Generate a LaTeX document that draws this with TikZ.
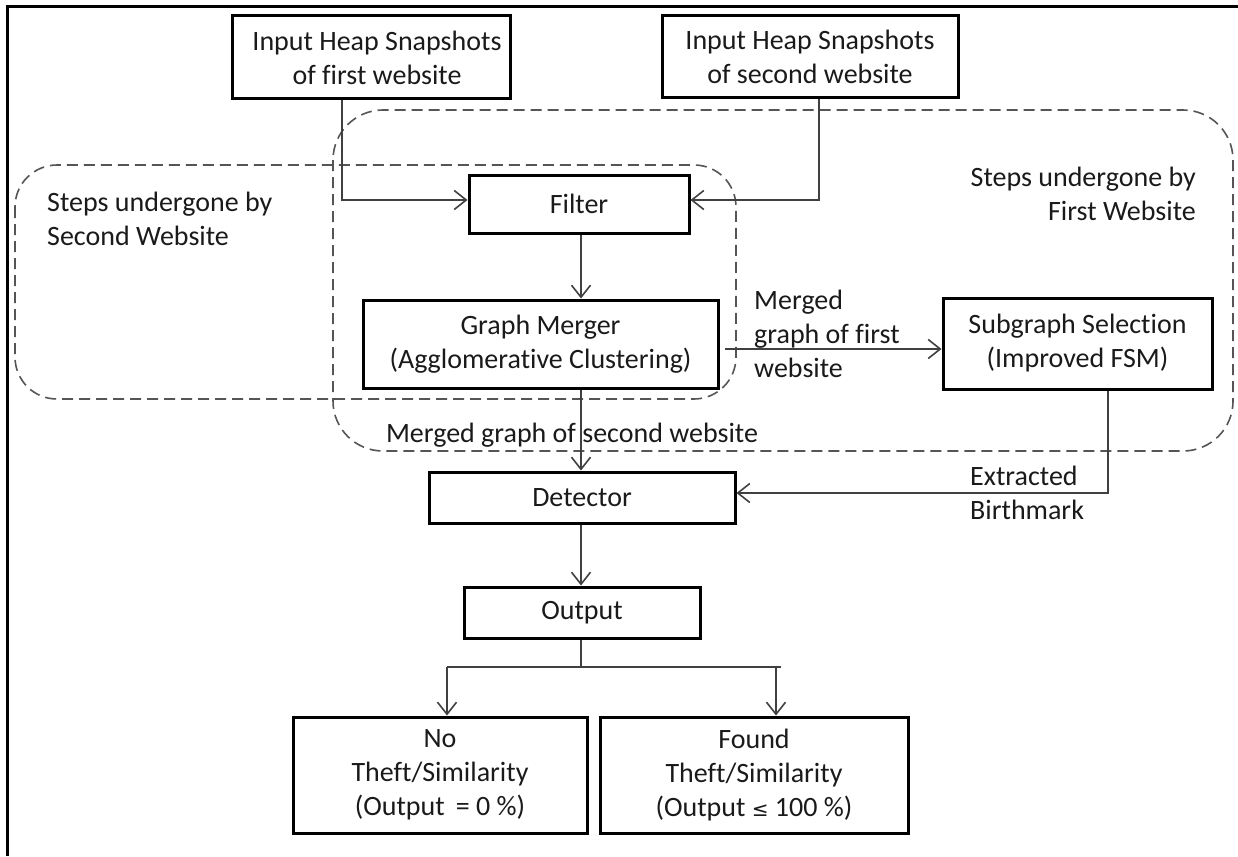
\documentclass[tikz,border=0pt]{standalone}
\usepackage{fontspec}
\setmainfont[Ligatures={NoCommon,NoRare}]{Carlito}
\usetikzlibrary{arrows.meta}
\definecolor{txt}{HTML}{1A1A1A}
\definecolor{lnc}{HTML}{404040}
\definecolor{dsh}{HTML}{555555}
\tikzset{
  box/.style={draw=black,line width=3pt,inner sep=0pt,align=center,text=txt,
    font=\fontsize{28}{34}\selectfont},
  conn/.style={draw=lnc,line width=1.6pt,-{Straight Barb[length=12pt,width=19pt,line width=1.6pt]}},
  plain/.style={draw=lnc,line width=1.6pt},
  region/.style={draw=dsh,line width=1.6pt,dash pattern=on 11pt off 6pt},
  lbl/.style={inner sep=0pt,text=txt,font=\fontsize{28}{34}\selectfont}
}
\begin{document}
\begin{tikzpicture}[x=1pt,y=-1pt]
\useasboundingbox (0,0) rectangle (1238,856);
% frame
\draw[line width=3pt] (7,856) -- (7,7) -- (1238,7);
% regions
\draw[region,rounded corners=50pt] (333,110) rectangle (1233,451);
\draw[region,rounded corners=42pt] (15,165) rectangle (736,399);
% nodes
\node[box,minimum width=278pt,minimum height=83pt] (in1) at (371,57.5) {\hspace*{12pt}Input Heap Snapshots\\\hspace*{12pt}of first website};
\node[box,minimum width=296pt,minimum height=82pt] (in2) at (810,57) {Input Heap Snapshots\\of second website};
\node[box,minimum width=220pt,minimum height=58pt] (filter) at (579,204) {Filter};
\node[box,minimum width=355pt,minimum height=88pt] (merger) at (540.5,344) {Graph Merger\\(Agglomerative Clustering)};
\node[box,minimum width=269pt,minimum height=91pt] (sub) at (1077.5,343.5) {Subgraph Selection\\(Improved FSM)};
\node[box,minimum width=306pt,minimum height=51pt] (det) at (582,497.5) {Detector};
\node[box,minimum width=236pt,minimum height=51pt] (out) at (582,612.5) {Output};
\node[box,minimum width=294pt,minimum height=116pt] (no) at (440,775) {No\\Theft/Similarity\\(Output \,= 0 \%)};
\node[box,minimum width=308pt,minimum height=116pt] (found) at (754,775) {Found\\Theft/Similarity\\(Output {\fontspec{DejaVu Sans}\fontsize{20}{34}\selectfont ≤} 100 \%)};
% labels
\node[lbl,anchor=west,align=left] (l2) at (47,218.5) {Steps undergone by\\Second Website};
\node[lbl,anchor=east,align=right] (l1) at (1196,193.5) {Steps undergone by\\First Website};
\node[lbl,anchor=west,align=left] (lm1) at (754,334) {Merged\\graph of first\\website};
\node[lbl] (lm2) at (572,435) {Merged graph of second website};
\node[lbl,anchor=west,align=left] (lex) at (970,493) {Extracted\\Birthmark};
% coordinates
\coordinate (a1) at (342,200);
\coordinate (a2) at (819,200);
\coordinate (sp) at (581,0);
\coordinate (mg) at (725,349);
\coordinate (b) at (1108,493);
\coordinate (sl) at (447,667);
\coordinate (sr) at (776,667);
\coordinate (se) at (781,667);
% connectors
\draw[conn] (in1.south -| a1) -- (a1) -- (filter.west |- a1);
\draw[conn] (in2.south -| a2) -- (a2) -- (filter.east |- a2);
\draw[conn] (filter.south -| sp) -- (merger.north -| sp);
\draw[conn] (merger.south -| sp) -- (det.north -| sp);
\draw[conn] (det.south -| sp) -- (out.north -| sp);
\draw[conn] (mg) -- (sub.west |- mg);
\draw[conn] (sub.south -| b) -- (b) -- (det.east |- b);
\draw[plain] (out.south -| sp) -- (sp |- sl);
\draw[plain] (sl) -- (se);
\draw[conn] (sl) -- (no.north -| sl);
\draw[conn] (sr) -- (found.north -| sr);
\end{tikzpicture}
\end{document}
